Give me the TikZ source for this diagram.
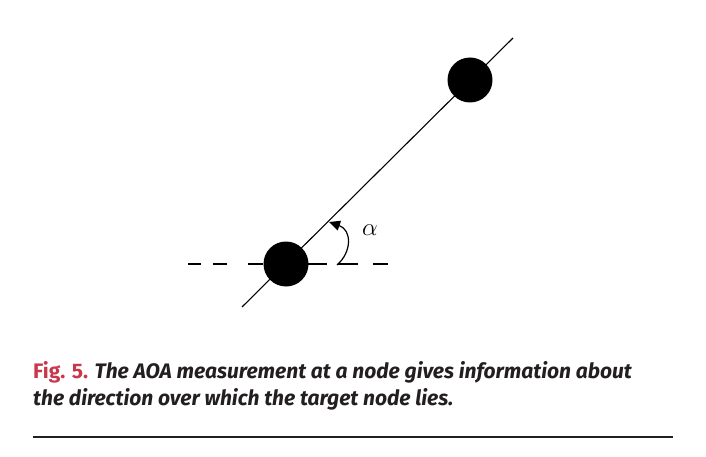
\documentclass[tikz,border=0pt]{standalone}
\usepackage{fontspec}
\newfontfamily\capfont{Fira Sans}
\usetikzlibrary{arrows.meta}
\definecolor{figred}{HTML}{C8384C}
\definecolor{captxt}{HTML}{231F20}
\tikzset{
  dot/.style={circle,fill=black,inner sep=0pt,minimum width=45pt,minimum height=43pt},
  refline/.style={line width=1.1pt},
  dashseg/.style={line width=1.2pt},
  caption/.style={anchor=base west,inner sep=0pt,font=\capfont\bfseries\itshape\fontsize{21}{27}\selectfont,text=captxt}
}
\begin{document}
\begin{tikzpicture}[x=1pt,y=-1pt]
\useasboundingbox (0,0) rectangle (706,457);
% line through both nodes
\coordinate (lineA) at (242,307);
\coordinate (lineB) at (513,38);
\draw[refline] (lineA) -- (lineB);
% dashed horizontal reference
\draw[dashseg] (188,264) -- (201,264) (213,264) -- (227,264) (248,264) -- (263,264)
  (308,264) -- (327,264) (338,264) -- (358,264) (373,264) -- (388,264);
% nodes
\node[dot] (lower) at (286,264) {};
\node[dot] (upper) at (470,80) {};
% angle arc
\coordinate (arcS) at (337,265);
\coordinate (arcE) at (329,222);
\draw[line width=1.2pt,-{Triangle[length=11pt,width=10pt]}] (arcS) .. controls (352,252) and (352,230) .. (arcE);
\node[font=\fontsize{25}{25}\selectfont] (alpha) at (370,230) {$\alpha$};
% caption
\node[caption] (cap1) at (33,378) {{\color{figred}\upshape Fig. 5.} The AOA measurement at a node gives information about};
\node[caption] (cap2) at (33,405) {the direction over which the target node lies.};
\draw[line width=1.4pt,color=captxt] (33,437) -- (673,437);
\end{tikzpicture}
\end{document}
